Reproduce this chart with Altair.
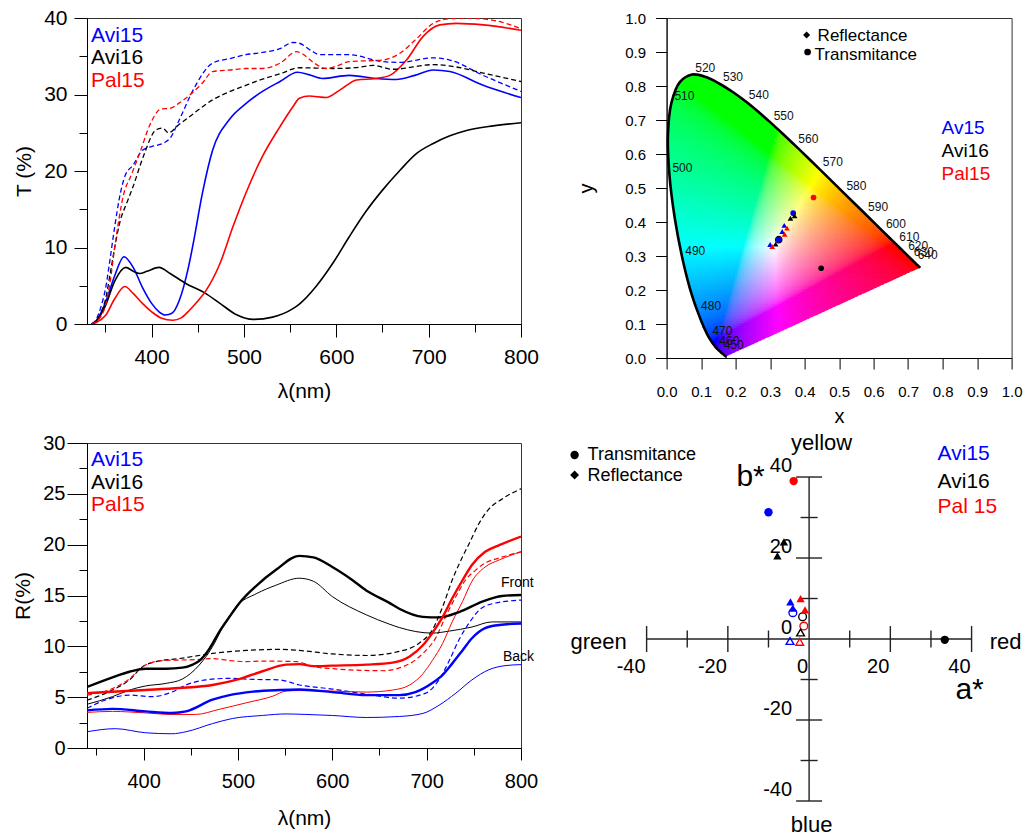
import numpy as np
import pandas as pd
import altair as alt

FONT = "Liberation Sans"
COLORS = {"Avi15": "#0000ff", "Avi16": "#000000", "Pal15": "#ff0000"}

# ---------------- Transmittance spectra (top-left, T %) ----------------
T_AVI15_WL = [335, 340, 350, 360, 370, 380, 390, 400, 408, 415, 422, 430, 440, 445, 455, 466, 484, 502, 520, 539, 558, 570, 585, 614, 643, 665, 685, 705, 723, 759, 800]
T_AVI15 = [0.0, 0.4, 2.8, 6.3, 8.8, 7.4, 4.8, 2.7, 1.6, 1.18, 1.4, 3.1, 7.5, 10.5, 17.1, 22.7, 26.7, 28.8, 30.4, 31.7, 32.9, 32.6, 32.1, 32.5, 32.1, 31.97, 32.5, 33.2, 33.0, 31.2, 29.6]
T_AVI16_WL = [335, 340, 350, 360, 372, 380, 387, 395, 408, 420, 437, 457, 474, 492, 510, 531, 553, 560, 578, 596, 614, 632, 650, 669, 687, 705, 723, 741, 770, 800]
T_AVI16 = [0.0, 0.4, 2.4, 5.6, 7.4, 6.9, 6.6, 6.9, 7.4, 6.6, 5.3, 4.1, 2.7, 1.2, 0.6, 0.9, 2.0, 2.6, 4.9, 7.9, 11.4, 14.7, 17.5, 20.1, 22.3, 23.6, 24.6, 25.3, 25.9, 26.3]
T_PAL15_WL = [335, 340, 350, 360, 371, 380, 390, 400, 410, 423, 432, 441, 450, 459, 474, 488, 502, 520, 539, 553, 560, 571, 580, 589, 604, 622, 643, 658, 676, 694, 712, 730, 759, 800]
T_PAL15 = [0.0, 0.2, 1.1, 3.3, 4.9, 4.0, 2.7, 1.6, 0.8, 0.5, 0.8, 1.8, 3.0, 4.4, 7.9, 12.7, 17.1, 21.9, 25.8, 28.4, 29.5, 29.8, 29.7, 29.6, 30.6, 31.9, 32.1, 32.5, 34.5, 37.6, 39.1, 39.3, 39.1, 38.4]
T_AVI15D_WL = [335, 340, 345, 350, 355, 360, 365, 371, 380, 390, 400, 410, 415, 420, 430, 445, 466, 485, 502, 520, 539, 553, 560, 572, 582, 614, 650, 669, 705, 723, 759, 800]
T_AVI15D = [0.0, 0.6, 2.2, 4.6, 8.5, 12.7, 16.4, 19.3, 20.8, 22.7, 23.2, 23.5, 23.8, 24.3, 26.7, 30.6, 34.1, 34.7, 35.2, 35.5, 36.0, 36.8, 36.7, 35.8, 35.2, 35.2, 34.3, 34.2, 34.8, 34.5, 32.5, 30.4]
T_AVI16D_WL = [335, 340, 345, 350, 355, 360, 366, 373, 380, 391, 405, 412, 418, 430, 441, 466, 485, 502, 520, 539, 560, 596, 620, 640, 661, 705, 730, 759, 800]
T_AVI16D = [0.0, 0.4, 1.4, 3.2, 6.5, 10.0, 13.5, 15.8, 18.0, 21.9, 25.4, 25.6, 25.0, 26.1, 27.1, 29.3, 30.4, 31.2, 32.0, 32.7, 33.5, 33.4, 33.5, 33.8, 33.3, 33.9, 33.6, 32.8, 31.7]
T_PAL15D_WL = [335, 340, 345, 350, 355, 360, 365, 369, 378, 387, 398, 410, 420, 430, 441, 455, 466, 485, 502, 520, 539, 557, 562, 575, 589, 600, 614, 650, 669, 687, 705, 723, 741, 770, 800]
T_PAL15D = [0.0, 0.3, 1.0, 2.4, 5.5, 10.0, 14.0, 16.6, 19.5, 22.3, 26.0, 28.1, 28.2, 28.9, 29.9, 31.5, 33.0, 33.2, 33.4, 33.4, 34.1, 35.6, 35.4, 34.2, 33.4, 33.7, 34.3, 34.5, 35.4, 37.3, 39.3, 39.9, 40.0, 39.7, 38.6]

# ---------------- Reflectance spectra (bottom-left, R %) ----------------
R_AVI16_F_WL = [340, 367, 385, 402, 424, 441, 452, 460, 470, 480, 491, 501, 520, 540, 565, 580, 600, 620, 636, 660, 671, 696, 713, 735, 759, 780, 800]
R_AVI16_F = [6.0, 6.95, 7.5, 7.8, 7.8, 7.9, 8.2, 8.65, 9.8, 11.4, 12.9, 14.2, 16.0, 17.5, 18.9, 18.75, 17.8, 16.6, 15.5, 14.3, 13.7, 12.9, 12.85, 13.4, 14.4, 14.95, 15.05]
R_AVI16_B_WL = [340, 367, 385, 402, 424, 441, 459, 473, 484, 498, 520, 540, 565, 580, 600, 636, 660, 671, 706, 724, 748, 769, 800]
R_AVI16_B = [4.3, 5.05, 5.7, 6.1, 6.36, 6.78, 8.16, 9.96, 11.9, 13.9, 15.2, 16.0, 16.7, 16.4, 14.9, 13.1, 12.2, 11.85, 11.3, 11.5, 11.9, 12.4, 12.4]
R_AVI16_D_WL = [340, 367, 385, 399, 413, 438, 473, 509, 544, 565, 600, 636, 671, 692, 706, 717, 727, 738, 745, 755, 765, 780, 800]
R_AVI16_D = [4.7, 5.7, 6.7, 8.0, 8.5, 8.8, 9.3, 9.6, 9.7, 9.6, 9.25, 9.1, 9.5, 10.3, 11.6, 13.9, 16.5, 18.8, 20.1, 22.0, 23.4, 24.5, 25.5]
R_PAL15_F_WL = [340, 402, 438, 473, 502, 526, 551, 565, 580, 600, 636, 664, 682, 696, 706, 717, 727, 738, 748, 762, 777, 800]
R_PAL15_F = [5.4, 5.7, 5.9, 6.2, 6.8, 7.55, 8.2, 8.25, 8.05, 8.1, 8.2, 8.4, 9.0, 10.1, 11.3, 12.9, 14.7, 16.5, 18.0, 19.3, 19.95, 20.8]
R_PAL15_B_WL = [340, 367, 402, 430, 455, 480, 509, 537, 551, 565, 600, 636, 664, 682, 696, 706, 717, 727, 738, 748, 762, 777, 800]
R_PAL15_B = [3.5, 3.6, 3.45, 3.3, 3.3, 3.8, 4.45, 5.1, 5.6, 5.65, 5.6, 5.5, 5.7, 6.2, 7.3, 8.6, 10.3, 12.4, 14.4, 16.4, 17.8, 18.5, 19.3]
R_PAL15_D_WL = [340, 367, 385, 399, 420, 456, 473, 491, 509, 526, 562, 580, 600, 653, 682, 696, 710, 720, 731, 741, 752, 762, 777, 800]
R_PAL15_D = [5.2, 5.85, 6.8, 8.0, 8.6, 8.7, 8.8, 8.6, 8.5, 8.55, 8.5, 8.0, 7.8, 7.6, 8.3, 9.3, 10.9, 12.9, 14.9, 16.5, 17.5, 18.2, 18.7, 19.3]
R_AVI15_F_WL = [340, 367, 402, 430, 445, 473, 491, 516, 544, 565, 600, 636, 671, 688, 706, 717, 727, 738, 748, 762, 777, 800]
R_AVI15_F = [3.7, 3.85, 3.6, 3.45, 3.6, 4.75, 5.2, 5.55, 5.7, 5.75, 5.5, 5.2, 5.2, 5.5, 6.4, 7.2, 8.3, 9.6, 10.8, 11.8, 12.1, 12.25]
R_AVI15_B_WL = [340, 370, 402, 430, 445, 473, 494, 526, 551, 572, 600, 636, 671, 696, 713, 731, 748, 766, 783, 800]
R_AVI15_B = [1.6, 1.9, 1.5, 1.4, 1.6, 2.4, 2.9, 3.2, 3.35, 3.3, 3.2, 3.0, 3.1, 3.4, 4.2, 5.4, 6.7, 7.7, 8.1, 8.2]
R_AVI15_D_WL = [340, 359, 385, 409, 430, 445, 466, 491, 516, 544, 565, 600, 636, 671, 699, 713, 724, 734, 745, 756, 770, 800]
R_AVI15_D = [3.9, 4.7, 5.2, 5.05, 5.5, 6.2, 6.7, 6.85, 6.75, 6.7, 6.2, 5.8, 5.3, 4.9, 5.4, 6.7, 8.6, 10.6, 12.3, 13.6, 14.2, 14.55]

# ---------------- CIE 1931 spectral locus ----------------
LOCUS_WL = [380, 390, 400, 410, 420, 430, 440, 450, 460, 470, 475, 480, 485, 490, 495, 500, 505, 510, 515, 520, 525, 530, 535, 540, 545, 550, 555, 560, 565, 570, 575, 580, 585, 590, 595, 600, 605, 610, 620, 630, 640, 650, 660, 680, 700]
LOCUS_X = [0.1741, 0.1738, 0.1733, 0.1726, 0.1714, 0.1689, 0.1644, 0.1566, 0.1440, 0.1241, 0.1096, 0.0913, 0.0687, 0.0454, 0.0235, 0.0082, 0.0039, 0.0139, 0.0389, 0.0743, 0.1142, 0.1547, 0.1929, 0.2296, 0.2658, 0.3016, 0.3373, 0.3731, 0.4087, 0.4441, 0.4788, 0.5125, 0.5448, 0.5752, 0.6029, 0.6270, 0.6482, 0.6658, 0.6915, 0.7079, 0.7190, 0.7260, 0.7300, 0.7334, 0.7347]
LOCUS_Y = [0.0050, 0.0049, 0.0048, 0.0048, 0.0051, 0.0069, 0.0109, 0.0177, 0.0297, 0.0578, 0.0868, 0.1327, 0.2007, 0.2950, 0.4127, 0.5384, 0.6548, 0.7502, 0.8120, 0.8338, 0.8262, 0.8059, 0.7816, 0.7543, 0.7243, 0.6923, 0.6589, 0.6245, 0.5896, 0.5547, 0.5202, 0.4866, 0.4544, 0.4242, 0.3965, 0.3725, 0.3514, 0.3340, 0.3083, 0.2920, 0.2809, 0.2740, 0.2700, 0.2666, 0.2653]
LABEL_WL = [450, 460, 470, 480, 490, 500, 510, 520, 530, 540, 550, 560, 570, 580, 590, 600, 610, 620, 630, 640]

# chromaticity coordinates of samples
CIE_X = [0.367, 0.325, 0.426, 0.448, 0.325, 0.371, 0.359, 0.316, 0.341, 0.335, 0.300, 0.349, 0.342, 0.306]
CIE_Y = [0.426, 0.348, 0.472, 0.264, 0.348, 0.418, 0.411, 0.335, 0.390, 0.372, 0.334, 0.382, 0.364, 0.328]
CIE_SAMPLE = ["Avi15", "Avi15", "Pal15", "Avi16", "Avi16", "Avi16", "Avi16", "Avi16", "Avi15", "Avi15", "Avi15", "Pal15", "Pal15", "Pal15"]
CIE_KIND = ["T", "T", "T", "T", "T", "R", "R", "R", "R", "R", "R", "R", "R", "R"]
CIE_FILL = ["filled", "filled", "filled", "filled", "open", "filled", "filled", "filled", "filled", "filled", "filled", "filled", "filled", "filled"]

# ---------------- CIELab a*, b* ----------------
LAB_A = [-3.8, -10.0, 33.4, -6.2, -7.8, -4.6, -4.0, -2.1, -1.0, -4.0, -1.6, -1.3, -2.1, -4.7, -2.3]
LAB_B = [39.0, 31.3, -0.2, 24.0, 20.5, 9.2, 7.6, 10.0, 7.2, 6.5, 5.5, 3.2, 1.6, -0.5, -0.7]
LAB_SAMPLE = ["Pal15", "Avi15", "Avi16", "Avi16", "Avi16", "Avi15", "Avi15", "Pal15", "Pal15", "Avi15", "Avi16", "Pal15", "Avi16", "Avi15", "Pal15"]
LAB_KIND = ["T", "T", "T", "R", "R", "R", "R", "R", "R", "T", "T", "T", "R", "R", "R"]
LAB_FILL = ["filled"] * 9 + ["open"] * 6
LAB_TICKS = [-40, -30, -20, -10, 10, 20, 30, 40]
LAB_LABELS = [-40, -20, 0, 20, 40]


def series_df(items):
    rows = []
    for sample, style, wl, vals in items:
        for w, v in zip(wl, vals):
            rows.append({"wl": w, "v": v, "key": sample + "-" + style, "style": style,
                         "color": COLORS[sample]})
    return pd.DataFrame(rows)


def txt(s, x, y, size, color="#000000", align="left"):
    return alt.Chart(pd.DataFrame({"t": [s]})).mark_text(
        align=align, baseline="middle", fontSize=size, color=color, font=FONT
    ).encode(text="t:N", x=alt.value(x), y=alt.value(y))


def sym(shape, x, y, size):
    return alt.Chart(pd.DataFrame({"t": [shape]})).mark_point(
        shape=shape, filled=True, size=size, color="#000000", opacity=1
    ).encode(x=alt.value(x), y=alt.value(y))


def spectra_panel(df, xdom, ydom, xmaj, xmin, ymaj, ymin, ytitle, widths, dashes,
                  lab_size, xtick, ytick, ylabpad, xlabpad, xtitlepad):
    xs = alt.Scale(domain=xdom, nice=False, zero=False)
    ys = alt.Scale(domain=ydom, nice=False, zero=False)
    x_main = alt.X("wl:Q", scale=xs, axis=alt.Axis(
        values=xmaj, tickSize=xtick, labelPadding=xlabpad, labelFontSize=lab_size, title="λ(nm)",
        titleFontSize=21, titlePadding=xtitlepad, labelFlush=False, format="d", orient="bottom"))
    y_main = alt.Y("v:Q", scale=ys, axis=alt.Axis(
        values=ymaj, tickSize=ytick, labelPadding=ylabpad, labelFontSize=lab_size, title=ytitle,
        titleFontSize=21, titlePadding=9, format="d", orient="left"))
    layers = []
    first = True
    for style in widths:
        sub = df[df["style"] == style]
        mk = dict(strokeWidth=widths[style], interpolate="monotone", clip=True)
        if dashes[style]:
            mk["strokeDash"] = dashes[style]
        enc_x = x_main if first else alt.X("wl:Q", scale=xs, axis=None)
        enc_y = y_main if first else alt.Y("v:Q", scale=ys, axis=None)
        first = False
        layers.append(alt.Chart(sub).mark_line(**mk).encode(
            x=enc_x, y=enc_y, color=alt.Color("color:N", scale=None), detail="key:N"))
    minor = alt.Chart(df).mark_point(opacity=0).encode(
        x=alt.X("wl:Q", scale=xs, axis=alt.Axis(orient="bottom", values=xmin, tickSize=xtick - 5,
                                                 labels=False, domain=False, title=None)),
        y=alt.Y("v:Q", scale=ys, axis=alt.Axis(orient="left", values=ymin, tickSize=8,
                                                labels=False, domain=False, title=None)))
    layers.append(minor)
    return layers


# ---------- Panel T ----------
t_df = series_df([
    ("Avi15", "solid", T_AVI15_WL, T_AVI15), ("Avi16", "solid", T_AVI16_WL, T_AVI16),
    ("Pal15", "solid", T_PAL15_WL, T_PAL15), ("Avi15", "dash", T_AVI15D_WL, T_AVI15D),
    ("Avi16", "dash", T_AVI16D_WL, T_AVI16D), ("Pal15", "dash", T_PAL15D_WL, T_PAL15D)])
t_layers = spectra_panel(t_df, [330, 800], [0, 40], [400, 500, 600, 700, 800], [350, 450, 550, 650, 750],
                         [0, 10, 20, 30, 40], [5, 15, 25, 35], "T (%)",
                         {"solid": 1.6, "dash": 1.3}, {"solid": None, "dash": [5, 3]}, 21, 13, 13, 7, 9, 13)
t_layers += [txt("Avi15", 4, 18, 21, COLORS["Avi15"]), txt("Avi16", 4, 40, 21, COLORS["Avi16"]),
             txt("Pal15", 4, 63, 21, COLORS["Pal15"])]
T = alt.layer(*t_layers).resolve_axis(x="independent", y="independent").properties(width=434, height=306)

# ---------- Panel R ----------
r_df = series_df([
    ("Avi16", "front", R_AVI16_F_WL, R_AVI16_F), ("Avi16", "back", R_AVI16_B_WL, R_AVI16_B),
    ("Avi16", "dash", R_AVI16_D_WL, R_AVI16_D), ("Pal15", "front", R_PAL15_F_WL, R_PAL15_F),
    ("Pal15", "back", R_PAL15_B_WL, R_PAL15_B), ("Pal15", "dash", R_PAL15_D_WL, R_PAL15_D),
    ("Avi15", "front", R_AVI15_F_WL, R_AVI15_F), ("Avi15", "back", R_AVI15_B_WL, R_AVI15_B),
    ("Avi15", "dash", R_AVI15_D_WL, R_AVI15_D)])
r_layers = spectra_panel(r_df, [340, 800], [0, 30], [400, 500, 600, 700, 800], [350, 450, 550, 650, 750],
                         [0, 5, 10, 15, 20, 25, 30], [2.5, 7.5, 12.5, 17.5, 22.5, 27.5], "R(%)",
                         {"dash": 1.2, "back": 1.0, "front": 2.4}, {"dash": [5, 3], "back": None, "front": None},
                         20, 12, 20, 2, 11, 16)
r_layers += [txt("Avi15", 4, 17, 21, COLORS["Avi15"]), txt("Avi16", 4, 40, 21, COLORS["Avi16"]),
             txt("Pal15", 4, 62, 21, COLORS["Pal15"]),
             txt("Front", 414, 140, 14), txt("Back", 416, 214, 14)]
R = alt.layer(*r_layers).resolve_axis(x="independent", y="independent").properties(width=434, height=305)

# ---------- Panel CIE ----------
def inside(px, py, polx, poly):
    res = np.zeros(px.shape, dtype=bool)
    n = len(polx)
    j = n - 1
    for i in range(n):
        xi, yi, xj, yj = polx[i], poly[i], polx[j], poly[j]
        cond = ((yi > py) != (yj > py)) & (px < (xj - xi) * (py - yi) / (yj - yi + 1e-12) + xi)
        res ^= cond
        j = i
    return res


STEP = 0.005
GX, GY = np.meshgrid(np.arange(0.0, 0.74, STEP), np.arange(0.0, 0.84, STEP))
CX, CY = GX + STEP / 2, GY + STEP / 2
mask = inside(CX, CY, np.array(LOCUS_X), np.array(LOCUS_Y))
cx, cy = CX[mask], CY[mask]
Xv, Zv = cx / cy, (1 - cx - cy) / cy
rgb = np.stack([3.2406 * Xv - 1.5372 - 0.4986 * Zv,
                -0.9689 * Xv + 1.8758 + 0.0415 * Zv,
                0.0557 * Xv - 0.2040 + 1.0570 * Zv])
rgb = np.clip(rgb, 0, None)
rgb = rgb / rgb.max(axis=0)
rgb = np.where(rgb <= 0.0031308, 12.92 * rgb, 1.055 * rgb ** (1 / 2.4) - 0.055)
rgb = np.clip(np.round(rgb * 255), 0, 255).astype(int)
hexc = ["#%02x%02x%02x" % (r, g, b) for r, g, b in rgb.T]
bg_df = pd.DataFrame({"x": np.round(GX[mask], 4), "x2": np.round(GX[mask] + STEP, 4),
                      "y": np.round(GY[mask], 4), "y2": np.round(GY[mask] + STEP, 4), "c": hexc})

cxs = alt.Scale(domain=[0, 1], nice=False, zero=False)
cys = alt.Scale(domain=[0, 1], nice=False, zero=False)
cie_vals = [round(i * 0.1, 1) for i in range(11)]
bg = alt.Chart(bg_df).mark_rect(strokeWidth=0.7).encode(
    x=alt.X("x:Q", scale=cxs, axis=alt.Axis(values=cie_vals, format=".1f", tickSize=11, labelPadding=15,
                                           labelFontSize=15, title="x", titleFontSize=20, titlePadding=7,
                                           labelFlush=False, orient="bottom")),
    x2="x2:Q",
    y=alt.Y("y:Q", scale=cys, axis=alt.Axis(values=cie_vals, format=".1f", tickSize=11, labelPadding=10,
                                           labelFontSize=15, title="y", titleFontSize=20, titlePadding=28,
                                           labelFlush=False, orient="left")),
    y2="y2:Q",
    color=alt.Color("c:N", scale=None), stroke=alt.Stroke("c:N", scale=None))

# white mask under the line of purples (hides the cell staircase there)
purple_df = pd.DataFrame({"x": [LOCUS_X[0], LOCUS_X[-1]], "y": [LOCUS_Y[0], LOCUS_Y[-1]], "y0": [0.002, 0.002]})
purple_mask = alt.Chart(purple_df).mark_area(color="#ffffff", opacity=1).encode(
    x=alt.X("x:Q", scale=cxs, axis=None), y=alt.Y("y:Q", scale=cys, axis=None), y2="y0:Q")

locus_df = pd.DataFrame({"x": LOCUS_X, "y": LOCUS_Y, "i": list(range(len(LOCUS_X)))})
locus = alt.Chart(locus_df).mark_line(color="#000000", strokeWidth=2.6, interpolate="catmull-rom").encode(
    x=alt.X("x:Q", scale=cxs, axis=None), y=alt.Y("y:Q", scale=cys, axis=None), order="i:Q")
lab_idx = [LOCUS_WL.index(w) for w in LABEL_WL]
wl_df = pd.DataFrame({"x": [LOCUS_X[i] for i in lab_idx], "y": [LOCUS_Y[i] for i in lab_idx],
                      "t": [str(w) for w in LABEL_WL]})
wl_text = alt.Chart(wl_df).mark_text(align="left", baseline="middle", dx=3, dy=-7, fontSize=12,
                                     font=FONT, color="#111111").encode(
    x=alt.X("x:Q", scale=cxs, axis=None), y=alt.Y("y:Q", scale=cys, axis=None), text="t:N")

shape_scale = alt.Scale(domain=["T", "R"], range=["circle", "triangle-up"])
cie_df = pd.DataFrame({"x": CIE_X, "y": CIE_Y, "kind": CIE_KIND, "fill": CIE_FILL,
                       "color": [COLORS[s] for s in CIE_SAMPLE]})
cie_filled = alt.Chart(cie_df[cie_df["fill"] == "filled"]).mark_point(filled=True, size=32, opacity=1).encode(
    x=alt.X("x:Q", scale=cxs, axis=None), y=alt.Y("y:Q", scale=cys, axis=None),
    shape=alt.Shape("kind:N", scale=shape_scale, legend=None), color=alt.Color("color:N", scale=None))
cie_open = alt.Chart(cie_df[cie_df["fill"] == "open"]).mark_point(filled=False, size=40, strokeWidth=1.3,
                                                                   opacity=1).encode(
    x=alt.X("x:Q", scale=cxs, axis=None), y=alt.Y("y:Q", scale=cys, axis=None),
    shape=alt.Shape("kind:N", scale=shape_scale, legend=None), color=alt.Color("color:N", scale=None))

CIE = alt.layer(
    bg, purple_mask, locus, wl_text, cie_open, cie_filled,
    sym("diamond", 140, 17, 50), txt("Reflectance", 151, 18, 17),
    sym("circle", 141, 34, 45), txt("Transmitance", 148, 37, 17),
    txt("Av15", 275, 110, 19, COLORS["Avi15"]), txt("Avi16", 275, 133, 19, COLORS["Avi16"]),
    txt("Pal15", 275, 156, 19, COLORS["Pal15"]),
).resolve_axis(x="independent", y="independent").properties(width=345, height=340)

# ---------- Panel Lab ----------
las = alt.Scale(domain=[-35.08, 51.82], nice=False, zero=False)
lbs = alt.Scale(domain=[-47.16, 48.40], nice=False, zero=False)
LX = lambda f: alt.X(f, scale=las, axis=None)
LY = lambda f: alt.Y(f, scale=lbs, axis=None)
AXC = "#222222"

h_axis = alt.Chart(pd.DataFrame({"a1": [-40], "a2": [40], "b": [0]})).mark_rule(color=AXC, strokeWidth=1.4).encode(
    x=LX("a1:Q"), x2="a2:Q", y=LY("b:Q"))
v_axis = alt.Chart(pd.DataFrame({"a": [0], "b1": [-40], "b2": [40]})).mark_rule(color=AXC, strokeWidth=1.4).encode(
    x=LX("a:Q"), y=LY("b1:Q"), y2="b2:Q")
half = [3.2 if t % 20 == 0 else 2.1 for t in LAB_TICKS]
a_tick_df = pd.DataFrame({"a": LAB_TICKS, "lo": [-h for h in half], "hi": half})
b_tick_df = pd.DataFrame({"b": LAB_TICKS, "lo": [-h for h in half], "hi": half})
a_ticks = alt.Chart(a_tick_df).mark_rule(color=AXC, strokeWidth=1.4).encode(x=LX("a:Q"), y=LY("lo:Q"), y2="hi:Q")
b_ticks = alt.Chart(b_tick_df).mark_rule(color=AXC, strokeWidth=1.4).encode(y=LY("b:Q"), x=LX("lo:Q"), x2="hi:Q")
a_lab = alt.Chart(pd.DataFrame({"a": LAB_LABELS, "b": [0] * 5, "t": [str(v) for v in LAB_LABELS]})).mark_text(
    align="right", baseline="middle", dx=-1, dy=28, fontSize=20, font=FONT, color="#000000").encode(
    x=LX("a:Q"), y=LY("b:Q"), text="t:N")
b_lab = alt.Chart(pd.DataFrame({"a": [0] * 5, "b": LAB_LABELS, "t": [str(v) for v in LAB_LABELS]})).mark_text(
    align="right", baseline="middle", dx=-17, dy=-11, fontSize=20, font=FONT, color="#000000").encode(
    x=LX("a:Q"), y=LY("b:Q"), text="t:N")

lab_df = pd.DataFrame({"a": LAB_A, "b": LAB_B, "kind": LAB_KIND, "fill": LAB_FILL,
                       "color": [COLORS[s] for s in LAB_SAMPLE]})
lab_filled = alt.Chart(lab_df[lab_df["fill"] == "filled"]).mark_point(filled=True, size=70, opacity=1).encode(
    x=LX("a:Q"), y=LY("b:Q"), shape=alt.Shape("kind:N", scale=shape_scale, legend=None),
    color=alt.Color("color:N", scale=None))
lab_open = alt.Chart(lab_df[lab_df["fill"] == "open"]).mark_point(filled=False, size=60, strokeWidth=1.4,
                                                                   opacity=1).encode(
    x=LX("a:Q"), y=LY("b:Q"), shape=alt.Shape("kind:N", scale=shape_scale, legend=None),
    color=alt.Color("color:N", scale=None))

# Lab view's top edge sits at the R panel's top; annotations placed relative to it
LAB = alt.layer(
    h_axis, v_axis, a_ticks, b_ticks, a_lab, b_lab, lab_open, lab_filled,
    sym("circle", -92, 12, 70), txt("Transmitance", -79, 12, 18),
    sym("diamond", -92, 32, 80), txt("Reflectance", -79, 33, 18),
    txt("Avi15", 271, 11, 21, COLORS["Avi15"]), txt("Avi16", 271, 39, 21, COLORS["Avi16"]),
    txt("Pal 15", 271, 64, 21, COLORS["Pal15"]),
    txt("yellow", 155, 0, 22, align="center"), txt("b*", 84, 34, 30, align="center"),
    txt("green", -68, 199, 22, align="center"), txt("red", 339, 199, 22, align="center"),
    txt("a*", 303, 247, 30, align="center"), txt("blue", 145, 382, 22, align="center"),
).properties(width=353, height=387, view=alt.ViewBackground(stroke="transparent"))

chart = alt.concat(T, CIE, R, LAB, columns=2, bounds="flush", align="each",
                   spacing={"row": 85, "column": 145.6}).properties(
    padding={"left": 12, "top": 6, "right": 2, "bottom": 2}
).configure(font=FONT).configure_axis(
    grid=False, domainColor="#000000", tickColor="#000000", labelColor="#000000", titleColor="#000000",
    labelFont=FONT, titleFont=FONT, titleFontWeight="normal", domainWidth=1, tickWidth=1,
).configure_view(stroke="#333333", strokeWidth=1)

chart.save("out.html", embed_options={"renderer": "svg", "actions": False})
